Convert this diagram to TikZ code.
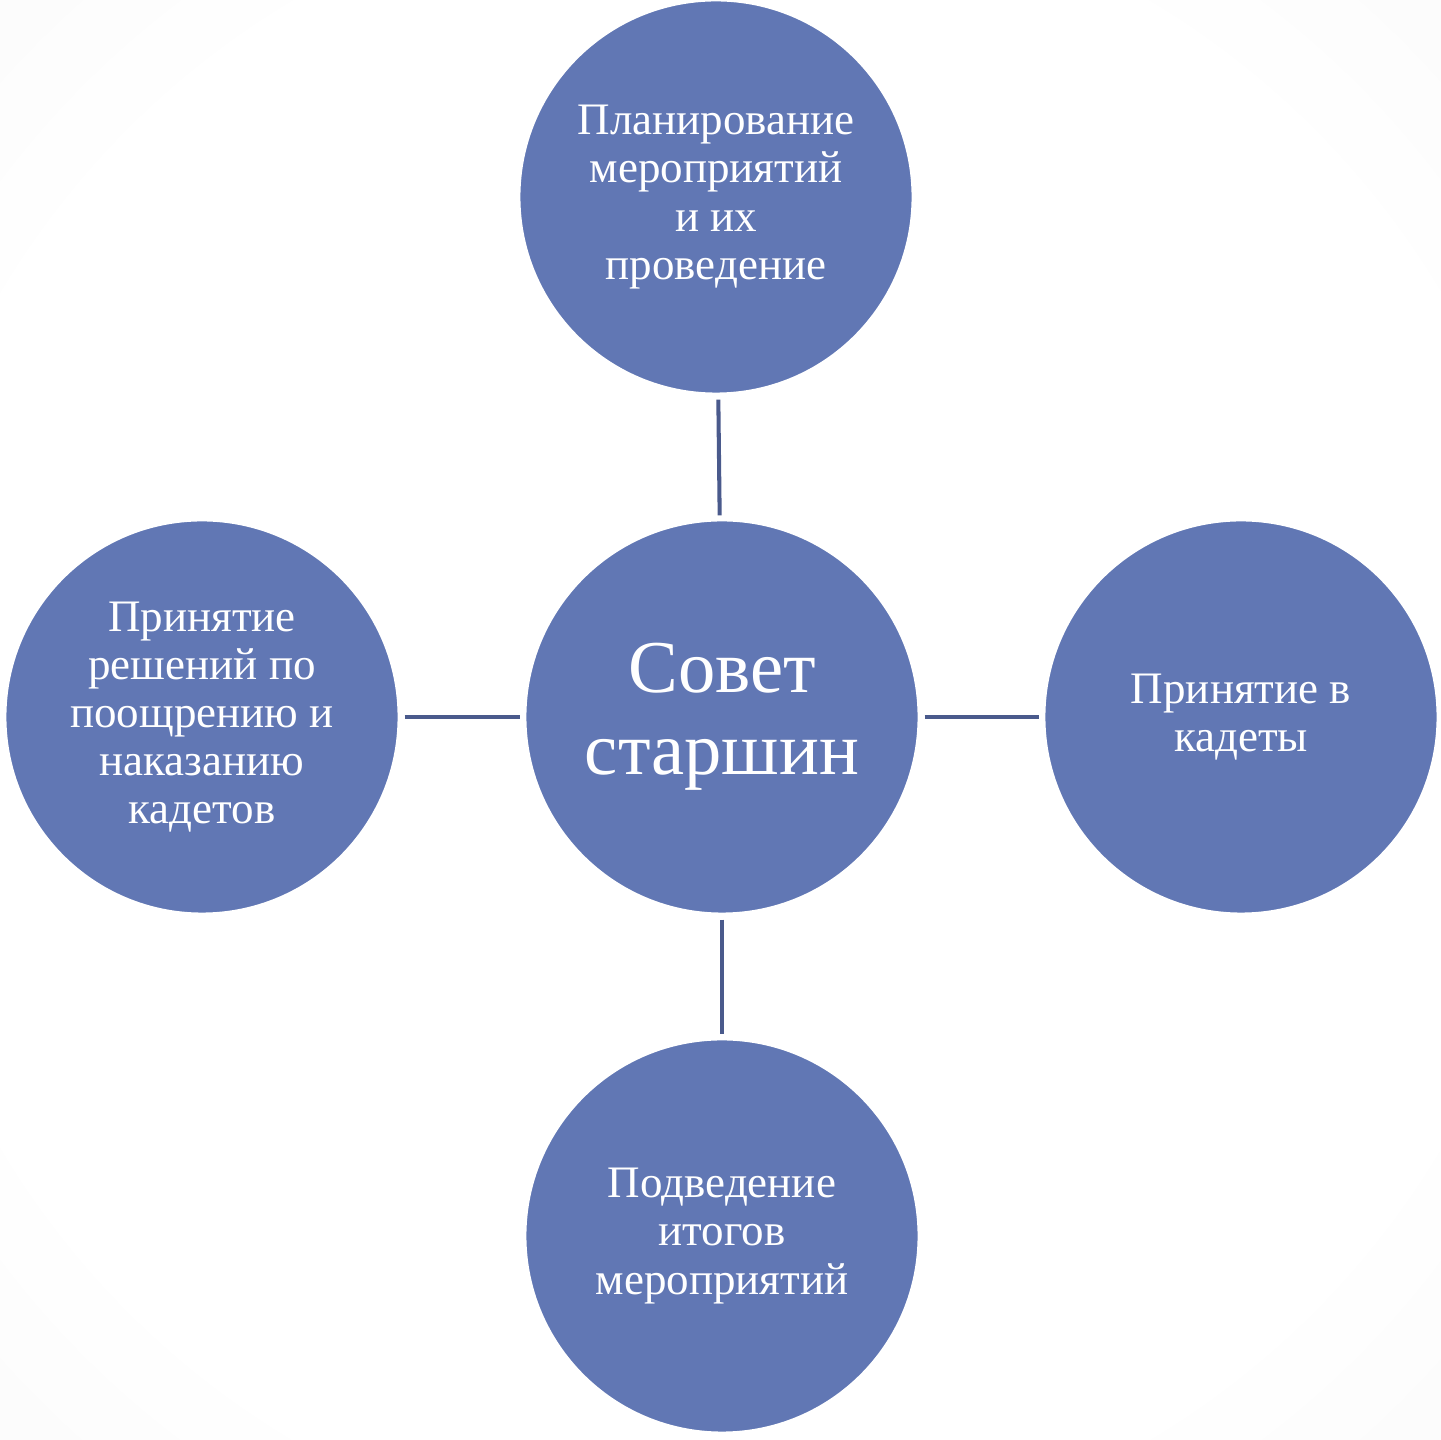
\documentclass[tikz,border=0pt]{standalone}
\usepackage{fontspec}
\setmainfont{Liberation Serif}

\definecolor{circfill}{HTML}{6177B4}
\definecolor{linkcol}{HTML}{4A5A8C}
\pgfdeclareradialshading{backshade}{\pgfpoint{0bp}{0bp}}{color(0bp)=(white); color(28bp)=(white); color(50bp)=(black!4); color(71bp)=(black!8)}

\tikzset{
  duty/.style={circle, fill=circfill, draw=white, line width=0.6pt, minimum size=3.93cm,
    inner sep=0pt, outer sep=0pt, text=white, align=center,
    font=\fontsize{12.8}{13.7}\selectfont},
  hub/.style={duty, font=\fontsize{21.2}{23.3}\selectfont},
  link/.style={draw=linkcol, line width=1.15pt, shorten <=0.06cm, shorten >=0.05cm}
}

\begin{document}
\begin{tikzpicture}[x=0.01cm,y=-0.01cm]
\shade[shading=backshade] (0,0) rectangle (1441,1440);
\useasboundingbox (0,0) rectangle (1441,1440);

\node[hub] (council) at (722,717) {Совет\\старшин};
\node[duty] (plan) at (716,197) {Планирование\\мероприятий\\и их\\проведение};
\node[duty] (reward) at (202,717) {Принятие\\решений по\\поощрению и\\наказанию\\кадетов};
\node[duty] (admit) at (1241,717) {Принятие в\\кадеты};
\node[duty] (summary) at (722,1236) {Подведение\\итогов\\мероприятий};

\draw[link] (plan) -- (council);
\draw[link] (reward) -- (council);
\draw[link] (council) -- (admit);
\draw[link] (council) -- (summary);
\end{tikzpicture}
\end{document}
